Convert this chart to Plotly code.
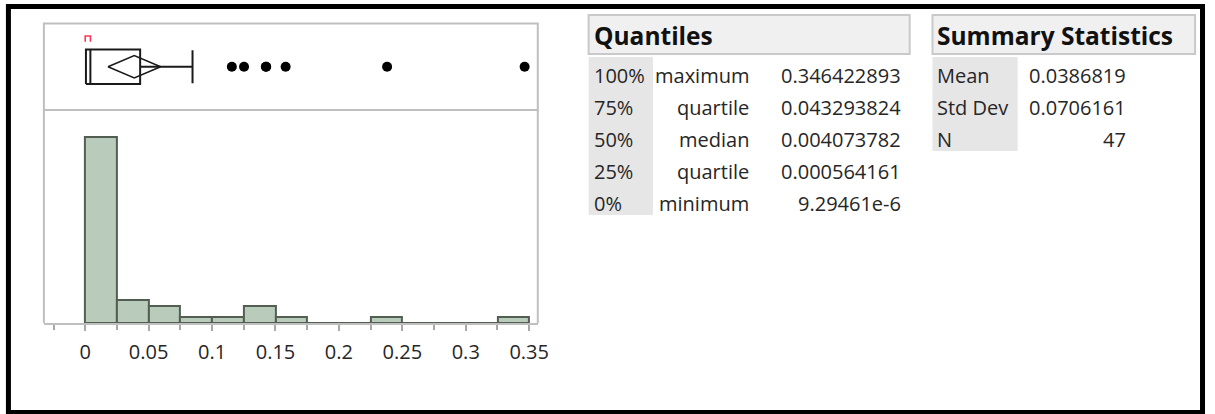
import plotly.graph_objects as go

W, H = 1215, 414

# Histogram bins (width 0.025) and counts
bin_edges = [0.0, 0.025, 0.05, 0.075, 0.1, 0.125, 0.15, 0.175, 0.2, 0.225, 0.25, 0.275, 0.3, 0.325, 0.35]
bin_counts = [32, 4, 3, 1, 1, 3, 1, 0, 0, 1, 0, 0, 0, 1]

# Quantiles table
quantile_pcts = ["100%", "75%", "50%", "25%", "0%"]
quantile_names = ["maximum", "quartile", "median", "quartile", "minimum"]
quantile_values = [0.346422893, 0.043293824, 0.004073782, 0.000564161, 9.29461e-6]

# Summary statistics table
summary_names = ["Mean", "Std Dev", "N"]
summary_values = [0.0386819, 0.0706161, 47]

# Box plot extras
upper_whisker = 0.0846
outliers = [0.1156, 0.1252, 0.1424, 0.1427, 0.158, 0.238, 0.346422893]
shortest_half = [9.29461e-6, 0.0041]
t_crit = 2.0129  # t(0.975, df=46)

q_max, q3, med, q1, q_min = quantile_values
mean, sd, n = summary_values
ci_half = t_crit * sd / n ** 0.5
ci_lo, ci_hi = mean - ci_half, mean + ci_half


def px(x):
    return x / W


def py(y):
    return 1 - y / H


FONT = "Open Sans, Segoe UI, sans-serif"
TXT = "#262626"
FRAME = "#bfbfbf"

# plot-area geometry (pixels)
L, R = 44.3, 542.7
TOP, SEP, AX = 23.5, 110.0, 323.3
X0_PX, PX_PER_UNIT = 86.0, 1280.0
x_range = [(L - X0_PX) / PX_PER_UNIT, (R - X0_PX) / PX_PER_UNIT]

fig = go.Figure()

# histogram bars
centers = [(a + b) / 2 for a, b in zip(bin_edges[:-1], bin_edges[1:])]
widths = [b - a for a, b in zip(bin_edges[:-1], bin_edges[1:])]
fig.add_trace(go.Bar(
    x=centers, y=bin_counts, width=widths,
    marker=dict(color="#b9cbbb", line=dict(color="#535e53", width=2)),
    xaxis="x", yaxis="y", hoverinfo="skip",
))

# box plot (outlier style) on the upper panel
BOX = dict(color="#1a1a1a", width=2)
box_lo, box_hi = 0.30, 0.70
fig.add_trace(go.Scatter(
    x=[q1, q3, q3, q1, q1], y=[box_lo, box_lo, box_hi, box_hi, box_lo],
    mode="lines", line=BOX, yaxis="y2", hoverinfo="skip"))
fig.add_trace(go.Scatter(
    x=[med, med], y=[box_lo, box_hi], mode="lines", line=BOX, yaxis="y2", hoverinfo="skip"))
fig.add_trace(go.Scatter(
    x=[q3, upper_whisker, None, upper_whisker, upper_whisker, None, q_min, q1],
    y=[0.5, 0.5, None, 0.31, 0.69, None, 0.5, 0.5],
    mode="lines", line=BOX, yaxis="y2", hoverinfo="skip"))
# mean diamond (95% confidence interval)
fig.add_trace(go.Scatter(
    x=[ci_lo, mean, ci_hi, mean, ci_lo], y=[0.5, 0.63, 0.5, 0.37, 0.5],
    mode="lines", line=dict(color="#1a1a1a", width=1.6), yaxis="y2", hoverinfo="skip"))
# shortest half bracket
fig.add_trace(go.Scatter(
    x=[shortest_half[0], shortest_half[0], shortest_half[1], shortest_half[1]],
    y=[0.79, 0.855, 0.855, 0.79],
    mode="lines", line=dict(color="#ff3355", width=1.6), yaxis="y2", hoverinfo="skip"))
# outliers
fig.add_trace(go.Scatter(
    x=outliers, y=[0.5] * len(outliers), mode="markers",
    marker=dict(color="black", size=10), yaxis="y2", hoverinfo="skip"))

shapes = []
# panel frames
shapes.append(dict(type="rect", xref="paper", yref="paper",
                   x0=px(L), x1=px(R), y0=py(SEP), y1=py(TOP),
                   line=dict(color=FRAME, width=2)))
for xx in (L, R):
    shapes.append(dict(type="line", xref="paper", yref="paper",
                       x0=px(xx), x1=px(xx), y0=py(AX), y1=py(SEP),
                       line=dict(color=FRAME, width=2)))

# table header boxes and label columns
HDR_FILL, HDR_LINE, COL_FILL = "#f0f0f0", "#c9c9c9", "#e6e6e6"
for x0, x1 in ((594, 918), (941, 1206)):
    shapes.append(dict(type="rect", xref="paper", yref="paper",
                       x0=px(x0), x1=px(x1), y0=py(54), y1=py(15),
                       fillcolor=HDR_FILL, line=dict(color=HDR_LINE, width=2), layer="below"))
shapes.append(dict(type="rect", xref="paper", yref="paper",
                   x0=px(594), x1=px(659), y0=py(215), y1=py(57),
                   fillcolor=COL_FILL, line=dict(width=0), layer="below"))
shapes.append(dict(type="rect", xref="paper", yref="paper",
                   x0=px(941), x1=px(1027), y0=py(151), y1=py(57),
                   fillcolor=COL_FILL, line=dict(width=0), layer="below"))

# outer black border
shapes.append(dict(type="rect", xref="paper", yref="paper",
                   x0=px(8.5), x1=px(1213.5), y0=py(412.5), y1=py(6.5),
                   line=dict(color="black", width=5)))


def fmt_q(v):
    if v < 1e-4:
        return f"{v:.5e}".replace("e-0", "e-")
    return f"{v:.9f}"


def fmt_s(v):
    return str(v) if isinstance(v, int) else f"{v:.7f}"


ann = []


def text(x, y, s, anchor, size=20, bold=False):
    ann.append(dict(xref="paper", yref="paper", x=px(x), y=py(y), text=f"<b>{s}</b>" if bold else s,
                    xanchor=anchor, yanchor="middle", showarrow=False,
                    font=dict(family=FONT, size=size, color="#111" if bold else TXT)))


text(597, 35, "Quantiles", "left", size=24.5, bold=True)
text(944, 35, "Summary Statistics", "left", size=24.5, bold=True)

ROW0, ROW_STEP = 75.5, 32
for i, (p, nm, v) in enumerate(zip(quantile_pcts, quantile_names, quantile_values)):
    y = ROW0 + i * ROW_STEP
    text(597, y, p, "left")
    text(758, y, nm, "right")
    text(911, y, fmt_q(v), "right")

for i, (nm, v) in enumerate(zip(summary_names, summary_values)):
    y = ROW0 + i * ROW_STEP
    text(944, y, nm, "left")
    text(1138, y, fmt_s(v), "right")

y_top = max(bin_counts) * (AX - SEP) / (AX - 136.7)

fig.update_layout(
    width=W, height=H,
    margin=dict(l=0, r=0, t=0, b=0),
    paper_bgcolor="white", plot_bgcolor="white",
    showlegend=False, bargap=0,
    shapes=shapes, annotations=ann,
    xaxis=dict(
        domain=[px(L), px(R)], range=x_range, anchor="y",
        tickmode="linear", tick0=0, dtick=0.05,
        ticks="outside", ticklen=6, tickwidth=2, tickcolor="#a8a8a8",
        minor=dict(dtick=0.025, tick0=0, ticks="outside", ticklen=5, tickwidth=2, tickcolor="#a8a8a8"),
        showline=True, linecolor=FRAME, linewidth=2,
        showgrid=False, zeroline=False,
        tickfont=dict(family=FONT, size=20, color=TXT),
        ticklabelstandoff=4,
    ),
    yaxis=dict(domain=[py(AX), py(SEP)], range=[0, y_top], visible=False, fixedrange=True),
    yaxis2=dict(domain=[py(SEP), py(TOP)], range=[0, 1], anchor="x", visible=False),
)

fig.write_html("out.html")
